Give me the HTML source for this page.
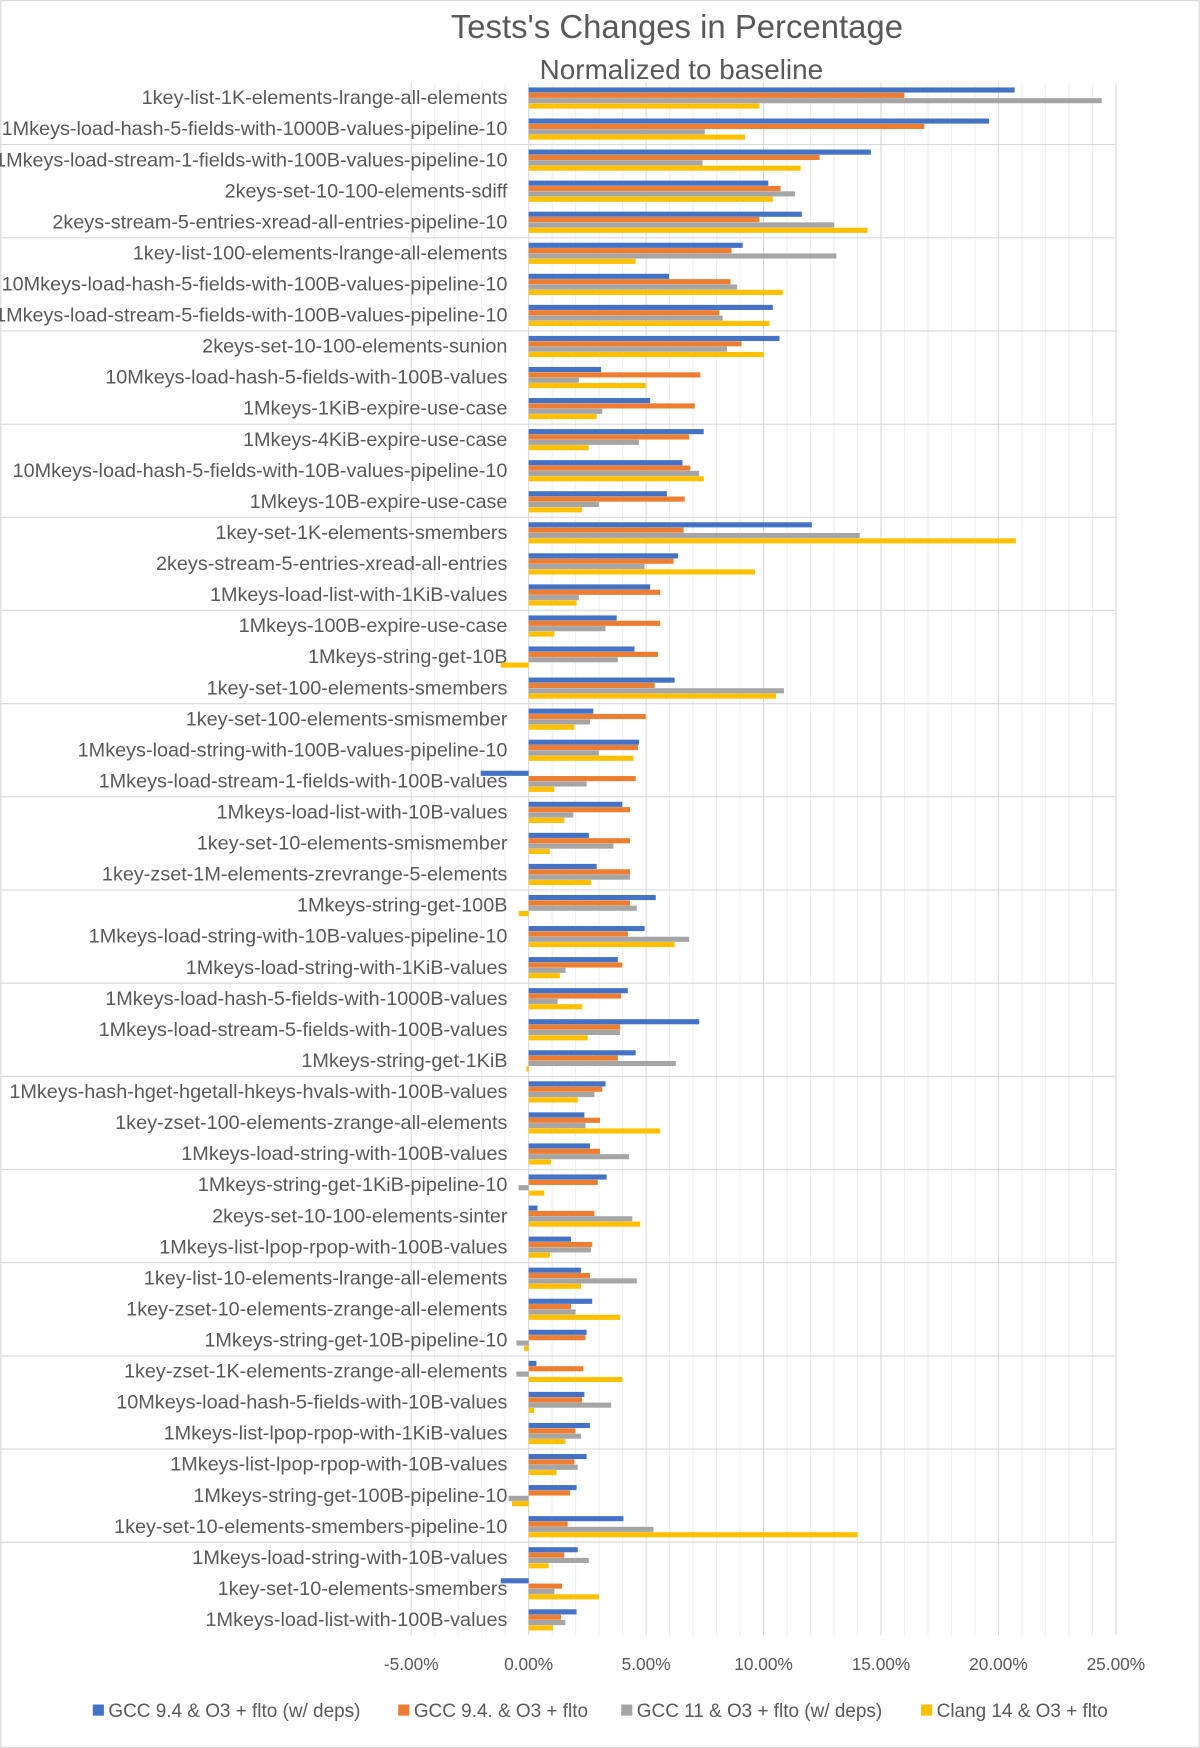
<!DOCTYPE html>
<html><head><meta charset="utf-8"><style>html,body{margin:0;padding:0;background:#fff}svg{display:block}</style></head>
<body>
<svg id="s" width="1200" height="1748" viewBox="0 0 1076 1568" xmlns="http://www.w3.org/2000/svg" font-family="'Liberation Sans', sans-serif">
<rect x="0.5" y="0.5" width="1075" height="1567" fill="#fff" stroke="#d9d9d9"/>
<text x="607" y="34" font-size="29.5" fill="#595959" text-anchor="middle">Tests's Changes in Percentage</text>
<text x="611" y="71" font-size="25" fill="#595959" text-anchor="middle">Normalized to baseline</text>
<g id="g"></g>
</svg>
<script>
(function(){
const labels=["1key-list-1K-elements-lrange-all-elements","1Mkeys-load-hash-5-fields-with-1000B-values-pipeline-10","1Mkeys-load-stream-1-fields-with-100B-values-pipeline-10","2keys-set-10-100-elements-sdiff","2keys-stream-5-entries-xread-all-entries-pipeline-10","1key-list-100-elements-lrange-all-elements","10Mkeys-load-hash-5-fields-with-100B-values-pipeline-10","1Mkeys-load-stream-5-fields-with-100B-values-pipeline-10","2keys-set-10-100-elements-sunion","10Mkeys-load-hash-5-fields-with-100B-values","1Mkeys-1KiB-expire-use-case","1Mkeys-4KiB-expire-use-case","10Mkeys-load-hash-5-fields-with-10B-values-pipeline-10","1Mkeys-10B-expire-use-case","1key-set-1K-elements-smembers","2keys-stream-5-entries-xread-all-entries","1Mkeys-load-list-with-1KiB-values","1Mkeys-100B-expire-use-case","1Mkeys-string-get-10B","1key-set-100-elements-smembers","1key-set-100-elements-smismember","1Mkeys-load-string-with-100B-values-pipeline-10","1Mkeys-load-stream-1-fields-with-100B-values","1Mkeys-load-list-with-10B-values","1key-set-10-elements-smismember","1key-zset-1M-elements-zrevrange-5-elements","1Mkeys-string-get-100B","1Mkeys-load-string-with-10B-values-pipeline-10","1Mkeys-load-string-with-1KiB-values","1Mkeys-load-hash-5-fields-with-1000B-values","1Mkeys-load-stream-5-fields-with-100B-values","1Mkeys-string-get-1KiB","1Mkeys-hash-hget-hgetall-hkeys-hvals-with-100B-values","1key-zset-100-elements-zrange-all-elements","1Mkeys-load-string-with-100B-values","1Mkeys-string-get-1KiB-pipeline-10","2keys-set-10-100-elements-sinter","1Mkeys-list-lpop-rpop-with-100B-values","1key-list-10-elements-lrange-all-elements","1key-zset-10-elements-zrange-all-elements","1Mkeys-string-get-10B-pipeline-10","1key-zset-1K-elements-zrange-all-elements","10Mkeys-load-hash-5-fields-with-10B-values","1Mkeys-list-lpop-rpop-with-1KiB-values","1Mkeys-list-lpop-rpop-with-10B-values","1Mkeys-string-get-100B-pipeline-10","1key-set-10-elements-smembers-pipeline-10","1Mkeys-load-string-with-10B-values","1key-set-10-elements-smembers","1Mkeys-load-list-with-100B-values"];
const v=[[910,811,988,681],[887,829,632,668],[781,735,630,718],[689,700,713,693],[719,681,748,778],[666,656,750,570],[600,655,661,702],[693,645,648,690],[699,665,652,685],[539,628,519,579],[583,623,540,535],[631,618,573,528],[612,619,627,631],[598,614,537,522],[728,613,771,911],[608,604,578,677],[583,592,519,517],[553,592,543,497],[569,590,554,449],[605,587,703,696],[532,579,529,515],[573,572,537,568],[431,570,526,497],[558,565,514,506],[528,565,550,493],[535,565,565,530],[588,565,571,465],[578,563,618,605],[554,558,507,502],[563,557,500,522],[627,556,556,527],[570,554,606,472],[543,540,533,518],[524,538,525,592],[529,538,564,494],[544,536,465,488],[482,533,567,574],[512,531,530,493],[521,529,571,521],[531,512,516,556],[526,525,463,470],[481,523,463,558],[524,522,548,479],[529,516,521,507],[526,515,518,499],[517,511,456,459],[559,509,586,769],[518,506,528,492],[449,504,497,537],[517,503,507,496]];
const cols=["#4472c4","#ed7d31","#a5a5a5","#ffc000"];
const Z=474,P=21.07,T0=74,step=27.86;let h="";
for(let i=-5;i<=25;i++){const x=Z+i*P;h+=`<line x1="${x}" y1="${T0}" x2="${x}" y2="${T0+50*step}" stroke="${i%5==0?'#d9d9d9':'#efefef'}" stroke-width="1"/>`;}
for(let r=2;r<50;r+=3){const y=T0+r*step;h+=`<line x1="0" y1="${y}" x2="1001" y2="${y}" stroke="#d9d9d9"/>`;}
labels.forEach((l,r)=>{const c=T0+r*step+step/2;h+=`<text x="455" y="${c+5.5}" font-size="17.8" fill="#595959" text-anchor="end">${l}</text>`;
v[r].forEach((x,k)=>{const y=c-9.5+k*4.8;const a=Math.min(x,Z),w=Math.abs(x-Z);h+=`<rect x="${a}" y="${y}" width="${w}" height="4.6" fill="${cols[k]}"/>`;});});
["-5.00%","0.00%","5.00%","10.00%","15.00%","20.00%","25.00%"].forEach((t,i)=>{h+=`<text x="${Z+(i-1)*5*P}" y="1498" font-size="15.5" fill="#595959" text-anchor="middle">${t}</text>`;});
const lg=[[83,"GCC 9.4 &amp; O3 + flto (w/ deps)"],[357,"GCC 9.4. &amp; O3 + flto"],[557,"GCC 11 &amp; O3 + flto (w/ deps)"],[826,"Clang 14 &amp; O3 + flto"]];
lg.forEach((e,k)=>{h+=`<rect x="${e[0]}" y="1529" width="10" height="10" fill="${cols[k]}"/><text x="${e[0]+14}" y="1540" font-size="17" fill="#595959">${e[1]}</text>`;});
document.getElementById("g").innerHTML=h;
})();
</script>
</body></html>
